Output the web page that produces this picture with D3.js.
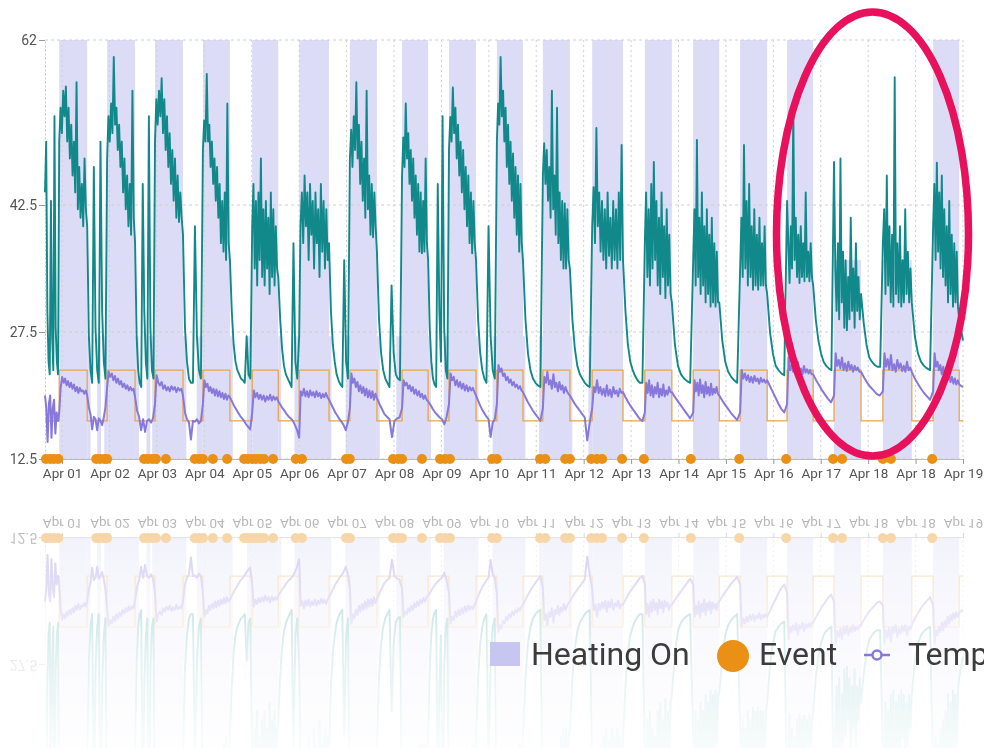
<!DOCTYPE html>
<html>
<head>
<meta charset="utf-8">
<script src="https://cdn.jsdelivr.net/npm/d3@7"></script>
<style>
  body { margin: 0; background: #fff; }
  svg { display: block; font-family: Roboto, sans-serif; }
</style>
</head>
<body>
<svg id="chart"></svg>
<script>
const width = 984;
const height = 748;
const plot = { left: 45, right: 963, top: 40, bottom: 459 };
const mirrorY = 498.5;

// x is in "day tick" units: 0 = Apr 01 tick, 19 = Apr 19 tick
const tStart = -0.36, tEnd = 19;
const dayLabels = ["Apr 01", "Apr 02", "Apr 03", "Apr 04", "Apr 05", "Apr 06", "Apr 07", "Apr 08", "Apr 09", "Apr 10",
  "Apr 11", "Apr 12", "Apr 13", "Apr 14", "Apr 15", "Apr 16", "Apr 17", "Apr 18", "Apr 18", "Apr 19"];
const yTicks = [12.5, 27.5, 42.5, 62];

// heating schedule (setpoint high while heating is on)
const onStart = [-0.06, 0.95, 1.96, 2.97, 4.01, 5.00, 6.07, 7.17, 8.16, 9.17, 10.14, 11.18, 12.29, 13.31, 14.30, 15.29, 16.28, 17.31, 18.37];
const onEnd   = [0.53, 1.54, 2.55, 3.54, 4.56, 5.63, 6.64, 7.72, 8.73, 9.72, 10.71, 11.83, 12.86, 13.86, 14.87, 15.84, 16.85, 17.92, 18.92];
const heatingTop = [62, 62, 62, 62, 62, 62, 62, 62, 62, 62, 62, 62, 62, 62, 62, 62, 36, 36, 62];
const setpointHigh = 23, setpointLow = 17;

// short heating cycles during the low periods (start, end, top)
const auxStart = [0.53, 0.74, 0.89, 1.54, 1.78, 1.90, 2.55, 2.84, 3.54, 3.90, 4.56, 4.90, 5.63, 5.98, 6.64, 7.05, 7.72, 8.05, 8.73, 9.08, 9.72, 10.06, 10.71, 11.10];
const auxEnd   = [0.60, 0.82, 0.95, 1.62, 1.86, 1.96, 2.62, 2.97, 3.60, 4.01, 4.62, 5.00, 5.68, 6.07, 6.70, 7.17, 7.78, 8.16, 8.78, 9.17, 9.77, 10.14, 10.76, 11.18];
const auxTop = 27;

// humidity readings (teal): before first heating, then per on-phase / off-phase
const humidityPre = [44, 50, 30, 24, 22.5, 43, 27, 23, 53, 28, 24, 22.5];
const humidityOn = [
  [50, 54, 51, 56, 53, 56.5, 50, 54, 48, 52, 46, 50, 44, 57, 42, 47, 41, 45, 40, 48, 42],
  [48, 53, 50, 54.5, 51, 60, 52, 54, 49, 52, 47, 50, 44, 48, 42, 46, 40, 45, 39, 56, 41],
  [50, 55, 52, 56, 53, 57.5, 51, 55, 49, 53, 47, 51, 45, 49, 43, 48, 41, 46, 40.5, 44, 41],
  [49, 52.5, 50, 58, 50, 52, 47, 50, 45, 48, 43, 47, 41, 45, 38, 43, 37, 44, 36, 54.5, 38],
  [40, 45, 35, 43, 33, 44, 36, 48, 34, 42, 33, 43, 35, 41, 32, 44, 34, 42, 33, 40, 35],
  [27, 40, 44, 38, 46, 40, 44, 36, 45, 39, 43, 35, 44, 38, 42, 34, 45, 37, 43, 35, 42, 36],
  [48, 51.4, 47, 53, 49, 57, 48, 52, 45, 50, 43, 48, 41, 56, 42, 46, 39, 45, 38.7, 44, 40],
  [46, 50.5, 47, 54.5, 48, 51, 45, 49, 43, 48, 41, 46, 39, 45, 37, 44, 36.8, 43, 37, 48, 38],
  [49, 52.9, 50, 56.4, 51, 54, 48, 52, 46, 50, 44, 49, 42, 47, 40, 46, 38, 44, 36.8, 43, 38],
  [50, 54.5, 52, 60, 53, 56, 50, 54, 47, 52, 45, 50, 43, 48.6, 41, 47, 39, 46, 37, 45, 38],
  [46, 49.8, 45, 49, 43, 47, 41, 56, 42, 46, 39, 54, 38, 44, 36, 43, 35, 42.7, 35, 42, 36],
  [40, 44.6, 38, 51.6, 40, 44, 37, 43, 36, 42, 35, 44, 36.5, 41, 35, 43, 36, 42, 35, 44, 36, 49.6],
  [38, 44, 34, 42, 33, 45, 35, 47.6, 36, 43, 33, 41, 32, 44, 34, 40, 31.5, 42, 33, 39, 32],
  [36, 42, 33, 50.2, 34, 41, 32, 44, 33, 40, 31, 42, 32, 39, 30.5, 41, 31, 38, 30.5, 37, 31],
  [35, 41, 34, 49.6, 35, 43, 33, 45, 34, 40, 32.5, 42, 33, 39, 32.5, 41, 33, 38, 33, 40, 33],
  [43, 38, 33.3, 40, 35, 54, 36, 41, 34, 39, 33.3, 40, 34, 38, 33.5, 44, 34, 37, 33.5, 38, 34],
  [47.6, 35, 30, 38, 29, 48, 31, 37, 28, 36, 27.7, 34, 29, 41, 30, 35, 28, 38, 30, 34, 29],
  [38, 42, 32, 46, 33, 40, 31, 39, 30.5, 57.6, 32, 38, 31, 40, 30.5, 36, 31, 42, 32, 37, 31, 35],
  [40, 45, 36, 47.5, 37, 44, 35, 46, 34, 42, 33, 40, 31, 43, 32, 39, 30.5, 38, 31, 37, 30.5]
];
const humidityOff = [
  [40, 27, 23, 21.5, 47, 28, 23, 21.5, 50, 30, 24, 22],
  [38, 27, 23, 21.5, 21, 45, 30, 24, 22, 53, 28, 23, 22],
  [39, 28, 24, 22, 21.5, 21.5, 40, 27, 23, 22],
  [36, 30, 26, 24, 23, 22.5, 22, 21.8, 21.5, 27, 22.5, 22],
  [34, 29, 25.5, 23.5, 22.5, 22, 21.5, 21, 38, 24, 22],
  [38, 30, 26, 24, 22.5, 21.8, 21.3, 21, 36, 24, 22],
  [37, 29, 25, 23, 22, 21.5, 21, 33, 25, 22.5, 22, 21.8],
  [36, 28, 24, 22, 21.3, 21, 45, 30, 24, 53, 28, 23, 22],
  [36, 29, 25, 23, 22, 21.5, 40, 27, 23, 22],
  [36, 29, 25, 23, 22, 21.5, 21.2, 21],
  [35, 29, 25.5, 23.5, 22.5, 22, 21.5, 21.2, 21],
  [36, 30, 26, 24, 23, 22.3, 21.8, 21.5, 21.5],
  [31, 26, 23.5, 22.5, 22, 21.7, 21.5],
  [31, 26.5, 24, 22.8, 22.2, 21.8, 21.5],
  [32, 27.5, 25, 23.5, 23, 22.6, 22.4],
  [33, 29, 26.5, 25, 24, 23.5, 23.2, 23],
  [32, 28.5, 26, 24.5, 24, 23.6, 23.4, 23.4],
  [31, 27, 25, 24, 23.5, 23.2, 23],
  [29, 26.5]
];

// temperature readings (purple)
const tempPre = [20, 18.5, 14.5, 19, 20, 15, 18.5, 19.5, 15.5, 18, 17];
const tempOn = [
  [18, 21, 22.2, 21.5, 22, 21.2, 21.7, 21, 21.5, 20.8, 21.3, 20.5, 21, 20.3, 20.9, 20.5, 20.6, 20.2, 20.6],
  [21, 22.8, 22.2, 22.6, 21.8, 22.3, 21.5, 22, 21.3, 21.7, 21, 21.4, 20.8, 21.2, 20.6, 21, 20.6, 20.8],
  [19, 22.4, 21.5, 21.2, 21.6, 20.8, 21.2, 20.6, 21, 20.5, 21.1, 20.7, 21, 20.4, 20.9, 20.6, 20.8],
  [19, 21.8, 21, 21.4, 20.5, 21, 20.3, 20.8, 20, 20.7, 19.9, 20.5, 19.8, 20.3, 19.6, 20.2, 19.5, 20],
  [18, 20.6, 19.8, 20.3, 19.6, 20.1, 19.5, 20, 19.3, 19.9, 19.5, 20.1, 19.4, 19.9, 19.5, 19.8],
  [15, 20.5, 20, 20.8, 19.9, 20.5, 19.8, 20.6, 20, 20.4, 19.8, 20.5, 19.9, 20.3, 19.7, 20.2, 19.8, 20.3, 19.8],
  [18.5, 22.6, 21.5, 22, 21, 21.6, 20.5, 21.2, 20.3, 21, 20, 20.8, 19.8, 20.6, 19.7, 20.5, 19.5, 20.2],
  [18.5, 21.8, 21.2, 21.5, 20.8, 21.2, 20.5, 21, 20.2, 20.7, 20, 20.5, 19.8, 20.2, 19.6, 20, 19.5],
  [19, 22.6, 21.8, 22.2, 21.2, 21.8, 21, 21.6, 20.8, 21.4, 20.6, 21.2, 20.5, 21, 20.6, 20.9, 20.4],
  [19, 23.6, 22.8, 23.2, 22.3, 22.6, 21.8, 22.2, 21.5, 21.9, 21.2, 21.6, 21, 21.3, 20.8, 21.1, 20.6],
  [18.5, 22.2, 21.5, 22.8, 21.3, 21.8, 20.8, 22.5, 21, 21.5, 20.5, 21.6, 20.7, 21.2, 20.3, 21, 20.5, 20.2],
  [18.5, 21, 20.4, 21.8, 20.3, 21, 20.1, 20.8, 19.9, 21.2, 20, 20.7, 19.8, 21, 20.2, 20.6, 19.9, 20.8, 20.3],
  [18, 21.5, 20.3, 21.8, 20, 21.2, 19.8, 21, 20.2, 21.5, 19.8, 20.8, 20, 21.3, 19.9, 20.6, 20.1, 21, 20.4],
  [18, 21.8, 20.5, 21.5, 20, 21.9, 20.3, 21.2, 19.8, 21.6, 20.2, 21, 20, 21.4, 20.1, 20.8, 20.3, 21, 20.2],
  [18, 23, 22, 22.6, 21.8, 22.4, 21.6, 22.2, 21.5, 22.3, 21.7, 22, 21.4, 22.1, 21.6, 21.9, 21.5],
  [19, 24.5, 23, 23.6, 22.8, 23.4, 22.6, 24, 22.8, 23.2, 22.5, 23.5, 22.7, 23.1, 22.6, 23, 22.5],
  [20, 25, 23.5, 24.2, 23.2, 24.5, 23, 23.8, 22.9, 24, 23.1, 23.6, 22.8, 23.5, 23, 23.3, 22.8],
  [20.5, 25, 23.4, 24.3, 23.1, 24.8, 23, 23.7, 22.8, 24.2, 23.2, 23.8, 22.9, 23.5, 22.8, 24, 23, 23.3],
  [20.5, 25, 23.4, 24, 23, 23.6, 22.5, 23.4, 22.3, 23, 21.8, 22.6, 21.6, 22.2, 21.4, 22, 21.3, 21.8]
];
const tempOff = [
  [20, 18.6, 17.8, 16, 17.5, 17.2, 15.9, 17.3, 17, 16.5, 17.4, 18.6],
  [19.8, 18.2, 17.5, 15.9, 17.2, 15.7, 17, 17.2, 16.8, 17.3],
  [20, 18, 17.2, 16.8, 14.8, 17, 16.9, 17.2, 16.7, 17],
  [19.8, 19.3, 18.8, 18.4, 18, 17.6, 17.3, 17, 16.6, 16.3, 16],
  [19.3, 18.9, 18.5, 18.2, 17.8, 17.5, 17.3, 17, 16.5, 15.9],
  [19.5, 19, 18.5, 18, 17.6, 17.2, 16.9, 16.5, 15.9, 16.8],
  [19.7, 19, 18.4, 17.8, 17.5, 17.2, 15.1, 17, 17.3, 17.4],
  [19.3, 18.9, 18.4, 18, 17.7, 17.4, 17.2, 16.6, 17.5],
  [20, 19.4, 18.8, 18.3, 17.9, 17.5, 17.2, 15.1, 16.8, 17.2],
  [20.4, 19.8, 19.2, 18.7, 18.2, 17.8, 17.4, 17],
  [20, 19.5, 19, 18.6, 18.2, 17.8, 17.4, 14.7, 16.8],
  [20.4, 19.8, 19.3, 18.8, 18.4, 18, 17.6, 17.2, 17],
  [20.4, 19.8, 19.3, 18.8, 18.3, 17.8, 17.3],
  [20, 19.4, 18.9, 18.4, 17.9, 17.5, 17.1],
  [21.8, 21.1, 20.4, 19.7, 19, 18.4, 18],
  [22.5, 21.8, 21.2, 20.6, 20.1, 19.6, 19.2],
  [22.8, 22.1, 21.5, 21, 20.6, 20.2, 20],
  [22.8, 22, 21.4, 20.8, 20.3, 19.9, 19.5],
  [21.3, 21]
];

const eventTimes = [-0.34, -0.25, -0.17, -0.08, 0.72, 0.80, 0.89, 0.95, 1.73, 1.81, 1.90, 1.98, 2.19,
  2.80, 2.89, 2.97, 3.18, 3.48, 3.84, 3.92, 4.01, 4.09, 4.18, 4.26, 4.45, 4.93, 5.06, 5.99, 6.07,
  6.98, 7.09, 7.17, 7.59, 7.97, 8.08, 8.18, 9.07, 9.17, 10.08, 10.19, 10.61, 10.71, 11.16, 11.28,
  11.39, 11.81, 12.27, 13.26, 14.28, 15.27, 16.26, 16.45, 17.31, 17.48, 18.35];

const colors = {
  band: "#dcdcf6", teal: "#11898a", temp: "#8878dc", setpoint: "#e9a54a",
  event: "#ea9014", grid: "#cfcfcf", text: "#555"
};

const x = d3.scaleLinear().domain([tStart, tEnd]).range([plot.left, plot.right]);
const y = d3.scaleLinear().domain([12.5, 62]).range([plot.bottom, plot.top]);

// spread each phase's readings over its own time span
const phaseSeries = (pre, on, off) => {
  const pts = [];
  const add = (vals, t0, t1, closing) => vals.forEach((v, i) =>
    pts.push([t0 + (t1 - t0) * i / (closing ? vals.length - 1 : vals.length), v]));
  add(pre, tStart, onStart[0]);
  onStart.forEach((s, k) => {
    add(on[k], s, onEnd[k]);
    const last = k === onStart.length - 1;
    add(off[k], onEnd[k], last ? tEnd : onStart[k + 1], last);
  });
  return pts;
};
const humidity = phaseSeries(humidityPre, humidityOn, humidityOff);
const temperature = phaseSeries(tempPre, tempOn, tempOff);
const setpoint = [[tStart, setpointLow]];
onStart.forEach((s, k) => { setpoint.push([s, setpointHigh], [onEnd[k], setpointLow]); });
setpoint.push([tEnd, setpointLow]);

const svg = d3.select("#chart").attr("width", width).attr("height", height);
const defs = svg.append("defs");
const grad = defs.append("linearGradient").attr("id", "fadeGrad")
  .attr("gradientUnits", "userSpaceOnUse").attr("x1", 0).attr("y1", mirrorY).attr("x2", 0).attr("y2", height);
grad.append("stop").attr("offset", 0).attr("stop-color", "#fff").attr("stop-opacity", 0.5);
grad.append("stop").attr("offset", 0.25).attr("stop-color", "#fff").attr("stop-opacity", 0.3);
grad.append("stop").attr("offset", 0.6).attr("stop-color", "#fff").attr("stop-opacity", 0.13);
grad.append("stop").attr("offset", 1).attr("stop-color", "#fff").attr("stop-opacity", 0.03);
defs.append("mask").attr("id", "fade").attr("maskUnits", "userSpaceOnUse")
  .attr("x", 0).attr("y", 0).attr("width", width).attr("height", height)
  .append("rect").attr("x", 0).attr("y", mirrorY).attr("width", width).attr("height", height - mirrorY)
  .attr("fill", "url(#fadeGrad)");
defs.append("filter").attr("id", "soft").append("feGaussianBlur").attr("stdDeviation", 0.6);

const draw = (g, mirrored) => {
  // heating on bands
  g.append("g").selectAll("rect").data(onStart).enter().append("rect")
    .attr("x", (d) => x(d))
    .attr("width", (d, i) => x(onEnd[i]) - x(d))
    .attr("y", (d, i) => y(heatingTop[i]))
    .attr("height", (d, i) => y(12.5) - y(heatingTop[i]))
    .attr("fill", colors.band);
  g.append("g").selectAll("rect").data(auxStart).enter().append("rect")
    .attr("x", (d) => x(d))
    .attr("width", (d, i) => x(auxEnd[i]) - x(d))
    .attr("y", y(auxTop))
    .attr("height", y(12.5) - y(auxTop))
    .attr("fill", colors.band);

  // grid
  g.append("g").selectAll("line").data(yTicks).enter().append("line")
    .attr("x1", plot.left).attr("x2", plot.right).attr("y1", (d) => y(d)).attr("y2", (d) => y(d))
    .attr("stroke", colors.grid).attr("stroke-dasharray", "3,3");
  g.append("g").selectAll("line").data(d3.range(dayLabels.length)).enter().append("line")
    .attr("x1", (d) => x(d)).attr("x2", (d) => x(d)).attr("y1", plot.top).attr("y2", plot.bottom)
    .attr("stroke", colors.grid).attr("stroke-dasharray", "2,3");

  const xAxis = g.append("g").attr("transform", `translate(0,${plot.bottom})`)
    .call(d3.axisBottom(x).tickValues(d3.range(dayLabels.length)).tickFormat((i) => dayLabels[i])
      .tickSize(5).tickSizeOuter(0).tickPadding(4));
  xAxis.attr("font-family", "Roboto").attr("font-size", 13.5);
  xAxis.select(".domain").attr("stroke", "#bbb");
  xAxis.selectAll(".tick line").attr("stroke", "#999");
  xAxis.selectAll("text").attr("fill", colors.text);

  // the mirrored copy only shows the lower labels inside the page
  const shownTicks = mirrored ? yTicks.slice(0, 2) : yTicks;
  const yAxis = g.append("g").attr("transform", `translate(${plot.left},0)`)
    .call(d3.axisLeft(y).tickValues(shownTicks).tickFormat((d) => String(d)).tickSize(6).tickSizeOuter(0).tickPadding(2));
  yAxis.attr("font-family", "Roboto").attr("font-size", 14);
  yAxis.select(".domain").attr("stroke", "#c8c8c8").attr("stroke-dasharray", "2,2");
  yAxis.selectAll(".tick line").attr("stroke", "#999");
  yAxis.selectAll("text").attr("fill", colors.text);

  const line = d3.line().x((d) => x(d[0])).y((d) => y(d[1]));
  g.append("path").datum(setpoint).attr("fill", "none").attr("stroke", colors.setpoint)
    .attr("stroke-width", 1.3).attr("d", line.curve(d3.curveStepAfter));
  line.curve(d3.curveLinear);
  g.append("path").datum(temperature).attr("fill", "none").attr("stroke", colors.temp)
    .attr("stroke-width", 2).attr("stroke-linejoin", "round").attr("d", line);
  g.append("path").datum(humidity).attr("fill", "none").attr("stroke", colors.teal)
    .attr("stroke-width", 1.9).attr("stroke-linejoin", "round").attr("d", line);

  g.append("g").selectAll("circle").data(eventTimes).enter().append("circle")
    .attr("cx", (d) => x(d)).attr("cy", y(12.5)).attr("r", 5)
    .attr("fill", colors.event);
};

// mirrored, fading copy underneath
const mirror = svg.append("g").attr("mask", "url(#fade)")
  .append("g").attr("filter", "url(#soft)")
  .append("g").attr("transform", `translate(0,${2 * mirrorY}) scale(1,-1)`);
draw(mirror, true);
draw(svg.append("g"), false);

// legend
const legend = svg.append("g").attr("font-family", "Roboto").attr("font-size", 32).attr("fill", "#3c3c3c");
legend.append("rect").attr("x", 490).attr("y", 642).attr("width", 30).attr("height", 24).attr("fill", "#c6c6f0");
legend.append("text").attr("x", 531).attr("y", 665).text("Heating On");
legend.append("circle").attr("cx", 733).attr("cy", 656).attr("r", 16).attr("fill", colors.event);
legend.append("text").attr("x", 759).attr("y", 665).text("Event");
legend.append("line").attr("x1", 864).attr("x2", 890).attr("y1", 655).attr("y2", 655)
  .attr("stroke", colors.temp).attr("stroke-width", 2.5);
legend.append("circle").attr("cx", 877).attr("cy", 655).attr("r", 4.5)
  .attr("fill", "#fff").attr("stroke", colors.temp).attr("stroke-width", 2.5);
legend.append("text").attr("x", 908).attr("y", 665).text("Temperature");

// highlight ring
svg.append("ellipse").attr("cx", 872.5).attr("cy", 234).attr("rx", 96).attr("ry", 222)
  .attr("fill", "none").attr("stroke", "#e8115b").attr("stroke-width", 7.5);
</script>
</body>
</html>
